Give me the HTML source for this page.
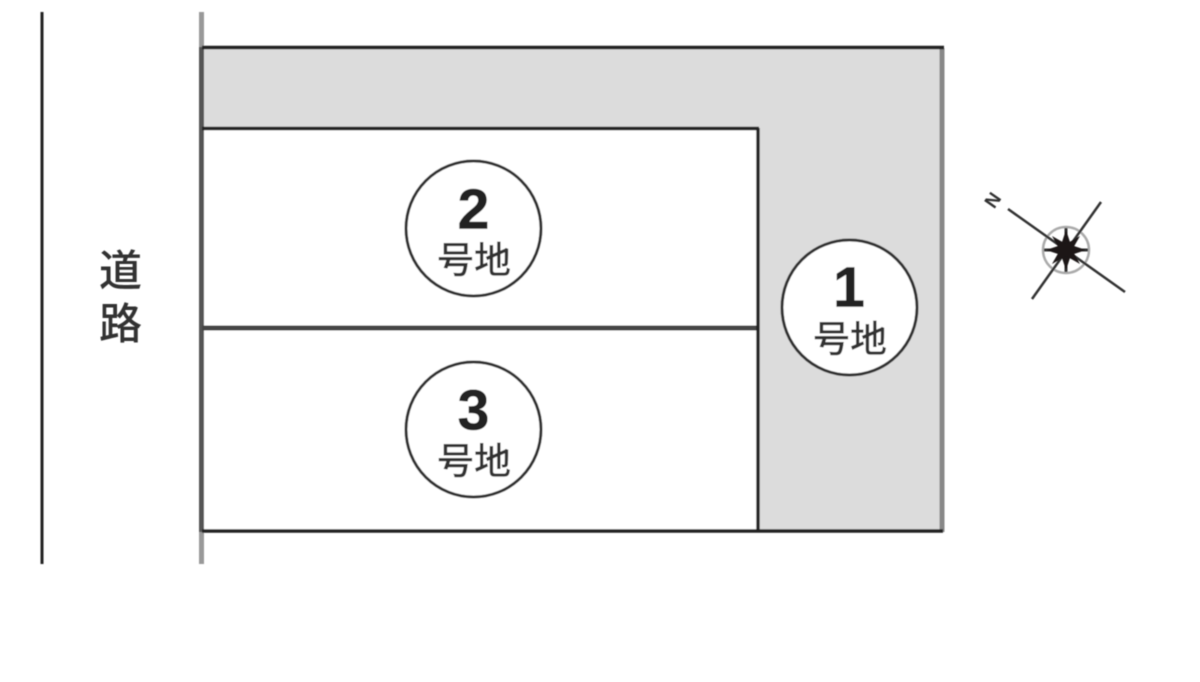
<!DOCTYPE html>
<html>
<head>
<meta charset="utf-8">
<style>
html,body{margin:0;padding:0;background:#fff;}
body{width:1200px;height:682px;overflow:hidden;}
svg{display:block;}
text{font-family:"Liberation Sans","Noto Sans CJK JP",sans-serif;}
.k{font-size:37px;font-weight:500;fill:#333;text-anchor:middle;}
.n{font-size:57px;font-weight:bold;fill:#222;text-anchor:middle;stroke:#222;stroke-width:.6px;}
.r{font-size:43px;font-weight:500;fill:#333;text-anchor:middle;}
</style>
</head>
<body>
<svg width="1200" height="682" viewBox="0 0 1200 682" xmlns="http://www.w3.org/2000/svg">
<defs><filter id="b" x="-2%" y="-2%" width="104%" height="104%"><feGaussianBlur stdDeviation="0.6"/></filter></defs>
<rect width="1200" height="682" fill="#fff"/>
<g filter="url(#b)">
<line x1="42" y1="12" x2="42" y2="564" stroke="#222" stroke-width="3"/>
<rect x="202" y="48" width="741" height="483" fill="#dcdcdc"/>
<rect x="203" y="129" width="555" height="402" fill="#fff"/>
<line x1="201.500" y1="12" x2="201.500" y2="564" stroke="#999" stroke-width="5"/>
<line x1="201.500" y1="47" x2="201.500" y2="532" stroke="#555" stroke-width="5"/>
<line x1="942" y1="48" x2="942" y2="532" stroke="#888" stroke-width="5"/>
<line x1="202" y1="47.500" x2="944" y2="47.500" stroke="#222" stroke-width="3.400"/>
<line x1="202" y1="128.500" x2="759" y2="128.500" stroke="#222" stroke-width="3.400"/>
<line x1="202" y1="328" x2="758" y2="328" stroke="#444" stroke-width="5"/>
<line x1="202" y1="531" x2="943" y2="531" stroke="#222" stroke-width="3.400"/>
<line x1="758" y1="128" x2="758" y2="532" stroke="#222" stroke-width="3.400"/>
<circle cx="473.500" cy="228.500" r="67.500" fill="#fff" stroke="#333" stroke-width="3"/>
<circle cx="473.500" cy="429.500" r="67.500" fill="#fff" stroke="#333" stroke-width="3"/>
<circle cx="849.500" cy="307.500" r="67.500" fill="#fff" stroke="#333" stroke-width="3"/>
<text class="n" x="473.500" y="228.500">2</text>
<text class="k" x="474" y="273">号地</text>
<text class="n" x="473.500" y="429.500">3</text>
<text class="k" x="474" y="474">号地</text>
<text class="n" x="849" y="306.500">1</text>
<text class="k" x="850" y="352">号地</text>
<text class="r" x="120.500" y="286">道</text>
<text class="r" x="120.500" y="339">路</text>
<circle cx="1066" cy="250" r="23" fill="none" stroke="#aaa" stroke-width="2.500"/>
<g stroke="#333">
<line x1="1008" y1="209" x2="1125" y2="292" stroke-width="2.500"/>
<line x1="1101" y1="202" x2="1032" y2="299" stroke-width="2.500"/>
<line x1="1066" y1="228" x2="1066" y2="272" stroke-width="3"/>
<line x1="1044" y1="250" x2="1088" y2="250" stroke-width="3"/>
</g>
<g fill="#1a1414">
<polygon points="1066,230 1071,245 1086,250 1071,255 1066,270 1061,255 1046,250 1061,245"/>
<polygon points="1052,236 1066,244 1080,236 1072,250 1080,264 1066,256 1052,264 1060,250"/>
</g>
<text x="0" y="0" font-size="19" font-weight="bold" fill="#333" text-anchor="middle" transform="translate(994,201) rotate(-55)" dominant-baseline="middle">N</text>
</g>
</svg>
</body>
</html>
